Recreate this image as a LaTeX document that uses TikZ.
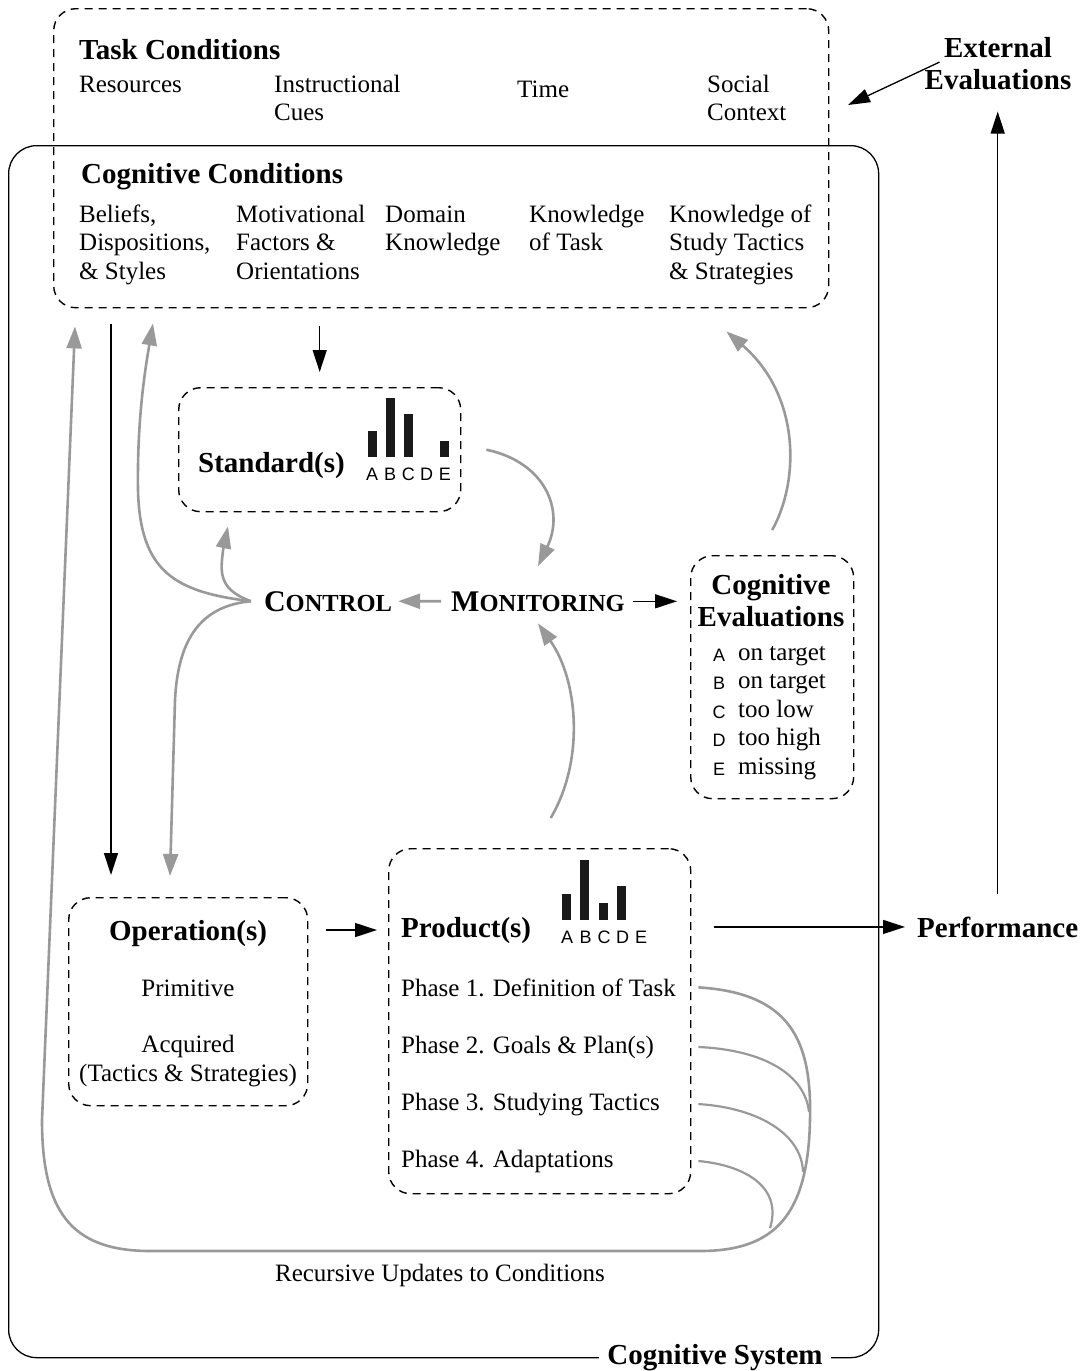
\documentclass[tikz,border=0pt]{standalone}
\usepackage{fontspec}
\setmainfont{Liberation Serif}
\setsansfont{Liberation Sans}
\usetikzlibrary{arrows.meta,positioning,calc}

\newcommand{\lowcap}[1]{{\fontsize{24.5}{26}\selectfont #1}}

\tikzset{
  dashbox/.style={draw, line width=1.4pt, dash pattern=on 8pt off 6pt, rounded corners=22pt, inner sep=0pt, anchor=north west},
  heading/.style={font=\fontsize{29}{32}\selectfont\bfseries, inner sep=0pt},
  words/.style={font=\fontsize{25}{28.5}\selectfont, align=left, inner sep=0pt, anchor=base west},
  barlabel/.style={font=\sffamily\fontsize{18}{18}\selectfont, inner sep=0pt, anchor=base},
  bar/.style={fill=black!90, draw=none},
  blackarrow/.style={-{Triangle[length=22pt,width=14pt]}, line width=1.3pt},
  grayarrow/.style={-{Triangle[length=22pt,width=15pt]}, line width=2.6pt, draw=black!40},
  grayline/.style={line width=2.2pt, draw=black!40},
}

\begin{document}
\begin{tikzpicture}[x=1pt, y=-1pt]
\useasboundingbox (0,0) rectangle (1090,1371);

% Boxes
\node[draw, line width=1.3pt, rounded corners=28pt, minimum width=870pt, minimum height=1212pt, inner sep=0pt, anchor=north west] (system) at (8,145) {};
\node[dashbox, minimum width=775pt, minimum height=299pt] (conditions) at (53,8) {};
\node[dashbox, minimum width=282pt, minimum height=124pt] (standards) at (178,387) {};
\node[dashbox, minimum width=163pt, minimum height=243pt] (evaluations) at (690,555) {};
\node[dashbox, minimum width=239pt, minimum height=208pt] (operations) at (68,897) {};
\node[dashbox, minimum width=302pt, minimum height=345pt] (products) at (388,848) {};

% Task conditions (multi-line nodes sit on their last line)
\node[heading, anchor=base west] (taskhead) at (79,59) {Task Conditions};
\node[words] (resources) at (79,92) {Resources};
\node[words] (cues) at (274,120.5) {Instructional\\Cues};
\node[words] (time) at (517,97) {Time};
\node[words] (social) at (707,120.5) {Social\\Context};
\node[heading, align=center, anchor=base] (external) at (998,89) {External\\Evaluations};

% Cognitive conditions
\node[heading, anchor=base west] (coghead) at (81,183) {Cognitive Conditions};
\node[words] (beliefs) at (79,279) {Beliefs,\\Dispositions,\\\& Styles};
\node[words] (motives) at (236,279) {Motivational\\Factors \&\\Orientations};
\node[words] (domain) at (385,250.5) {Domain\\Knowledge};
\node[words] (taskknow) at (529,250.5) {Knowledge\\of Task};
\node[words] (tactics) at (669,279) {Knowledge of\\Study Tactics\\\& Strategies};

% Standards
\node[heading, anchor=base west] (stdtitle) at (198,472) {Standard(s)};
\foreach \h/\letter [count=\i] in {26/A,59/B,43/C,0/D,16/E} {
  \ifnum\h>0 \fill[bar] ({372+18.2*(\i-1)-4.5},457) rectangle ++(9,-\h); \fi
  \node[barlabel] (stdlbl\i) at ({372+18.2*(\i-1)},480) {\letter};
}

% Control and monitoring
\node[inner sep=0pt, font=\fontsize{30}{32}\selectfont\bfseries, anchor=base] (control) at (328,611) {C\lowcap{ONTROL}};
\node[inner sep=0pt, font=\fontsize{30}{32}\selectfont\bfseries, anchor=base] (monitoring) at (538,611) {M\lowcap{ONITORING}};

% Cognitive evaluations
\node[heading, align=center, anchor=base] (evaltitle) at (771,626) {Cognitive\\Evaluations};
\foreach \letter/\what [count=\i] in {A/on target,B/on target,C/too low,D/too high,E/missing} {
  \node[barlabel] (evlbl\i) at (719,{661+28.5*(\i-1)}) {\letter};
  \node[words] (evtxt\i) at (738,{660+28.5*(\i-1)}) {\what};
}

% Operations
\node[heading, anchor=base] (optitle) at (188,940) {Operation(s)};
\node[words, anchor=base] (primitive) at (188,996) {Primitive};
\node[words, align=center, anchor=base] (acquired) at (188,1081) {Acquired\\(Tactics \& Strategies)};

% Products
\node[heading, anchor=base west] (prodtitle) at (401,937) {Product(s)};
\foreach \h/\letter [count=\i] in {26/A,60/B,17/C,34/D,0/E} {
  \ifnum\h>0 \fill[bar] ({566+18.5*(\i-1)-4.5},920) rectangle ++(9,-\h); \fi
  \node[barlabel] (prodlbl\i) at ({567+18.5*(\i-1)},943) {\letter};
}
\foreach \what [count=\i] in {Definition of Task, Goals \& Plan(s), Studying Tactics, Adaptations} {
  \node[words] (phase\i) at (401,{996+57*(\i-1)}) {Phase \i. \what};
  \coordinate (tail\i) at ($(products.east |- phase\i)+(7,0)$);
}

\node[heading, anchor=base west] (performance) at (917,937) {Performance};
\node[words, anchor=base] (recursive) at (440,1281) {Recursive Updates to Conditions};
\node[heading, anchor=base, fill=white, inner xsep=8pt] (systemlabel) at (715,1364) {Cognitive System};

% Black arrows
\coordinate (extend) at (848,105);
\draw[blackarrow] ([xshift=15pt,yshift=1pt]external.west) -- (extend);
\draw[blackarrow, shorten <=18pt, shorten >=15pt] (standards.north |- conditions.south) -- (standards.north);
\draw[blackarrow, shorten <=16pt, shorten >=22pt] ([xshift=58pt]conditions.south west) -- ([xshift=43pt]operations.north west);
\draw[blackarrow, shorten <=8pt, shorten >=13pt] (monitoring.east) -- (monitoring.east -| evaluations.west);
\draw[blackarrow, shorten <=18pt, shorten >=11pt] (operations.east |- prodtitle.west) -- (products.west |- prodtitle.west);
\draw[blackarrow, shorten <=23pt, shorten >=12pt] (products.east |- performance.west) -- (performance.west);
\draw[blackarrow, shorten <=22pt, shorten >=22pt] (performance.north) -- (performance.north |- external.south);

% Gray arrows
\coordinate (fork) at ([xshift=-13pt]control.west);
\draw[grayarrow] (fork) .. controls (175,592) and (140,572) .. (138,490) .. controls (137,420) and (145,370) .. ([xshift=100pt,yshift=-15pt]conditions.south west);
\draw[grayarrow] (fork) .. controls (226,592) and (220,580) .. (222,560) .. controls (223,550) .. ([xshift=50pt,yshift=-14pt]standards.south west);
\draw[grayarrow] (fork) .. controls (200,606) and (178,640) .. (175,700) -- ([xshift=102pt,yshift=21pt]operations.north west);
\draw[grayarrow, shorten <=10pt, shorten >=6pt] (monitoring.west) -- (control.east);
\draw[grayarrow] ([xshift=25pt]standards.east) .. controls (545,462) and (565,510) .. ([yshift=25pt]monitoring.north);
\draw[grayarrow] ([xshift=11pt,yshift=30pt]products.north) .. controls (585,760) and (578,680) .. ([yshift=-12pt]monitoring.south);
\draw[grayarrow] ([yshift=25pt]evaluations.north) .. controls (800,480) and (800,395) .. ([xshift=-103pt,yshift=-23pt]conditions.south east);

% Recursive updates
\draw[grayarrow] (tail1) .. controls (790,993) and (812,1040) .. (810,1120) .. controls (808,1215) and (775,1251) .. (700,1251) -- (150,1251) .. controls (70,1251) and (42,1210) .. (42,1120) -- ([xshift=22pt,yshift=-18pt]conditions.south west);
\draw[grayline] (tail2) .. controls (765,1050) and (805,1075) .. (809,1112);
\draw[grayline] (tail3) .. controls (760,1108) and (802,1135) .. (803,1172);
\draw[grayline] (tail4) .. controls (750,1166) and (782,1190) .. (770,1228);
\end{tikzpicture}
\end{document}
